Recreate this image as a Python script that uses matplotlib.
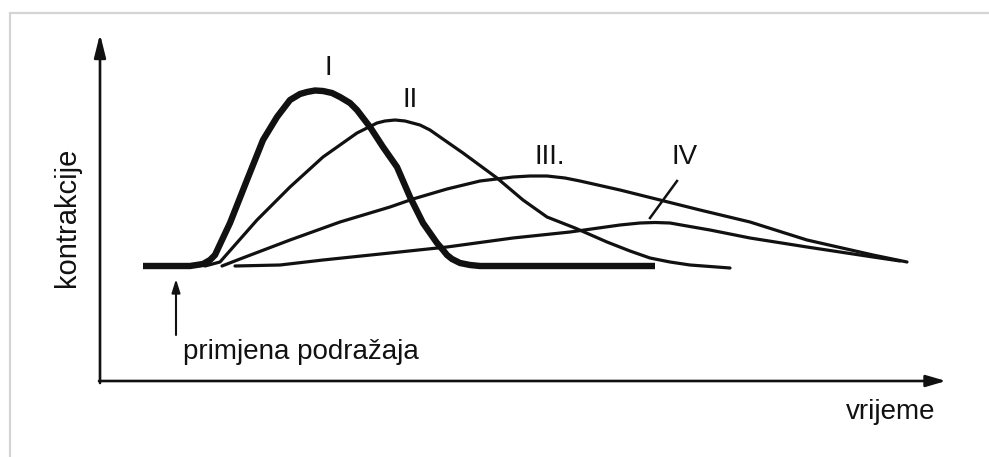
import matplotlib
matplotlib.use('Agg')
import matplotlib.pyplot as plt
from matplotlib.patches import Rectangle

plt.rcParams['font.family'] = ['Liberation Sans', 'DejaVu Sans']

# time (x) and contraction (y), arbitrary units
t_I = [43, 90, 103, 110, 115, 122, 130, 147, 163, 177, 190, 200, 207, 215, 223,
       232, 240, 250, 257, 270, 283, 297, 310, 323, 337, 343, 347, 352, 360, 370,
       380, 555]
c_I = [115, 115, 117, 121, 126, 141, 158, 201, 241, 264, 281, 287, 289, 290.5, 290,
       288, 284, 278, 271, 254, 234, 214, 184, 158, 138, 131, 126, 122, 118, 116,
       115, 115]

t_II = [105, 120, 157, 190, 223, 257, 277, 285, 295, 305, 320, 330, 340, 363, 397,
        423, 447, 475, 507, 530, 550, 570, 590, 630]
c_II = [115, 119, 161, 194, 224, 248, 258, 260, 261, 260, 256, 251, 244, 228, 203,
        181, 164, 153, 139, 130, 123, 119, 116, 113]

t_III = [122, 140, 190, 240, 290, 313, 347, 380, 413, 430, 447, 465, 480, 520, 560,
         600, 650, 707, 773, 807]
c_III = [115, 122, 141, 159, 174, 182, 192, 200, 204, 205, 205, 203, 200, 191, 181,
         171, 159, 141, 126, 119]

t_IV = [135, 180, 223, 290, 347, 413, 470, 520, 540, 555, 570, 587, 610, 650, 707,
        773, 800]
c_IV = [115, 116, 121, 128, 134, 143, 149, 156, 158, 158.5, 158, 155, 151, 143, 134,
        124, 120]

labels = ['I', 'II', 'III.', 'IV']
label_t = [228, 310, 450, 585]
label_c = [313, 281, 224, 224]

fig = plt.figure(figsize=(9.89, 4.57), dpi=100)
fig.patch.set_facecolor('white')
# faint frame of the scanned picture
fig.patches.append(Rectangle((10 / 989, -0.1), 1.2, (457 - 13) / 457 + 0.1,
                             transform=fig.transFigure, fill=False,
                             edgecolor='#d4d4d4', lw=1.6))

ax = fig.add_axes([0, 0, 1, 1])
ax.set_xlim(-100, 889)
ax.set_ylim(-76, 381)
ax.axis('off')

k = '#111111'
ax.plot(t_I, c_I, color=k, lw=4.6, solid_capstyle='butt', solid_joinstyle='round')
for tt, cc in [(t_II, c_II), (t_III, c_III), (t_IV, c_IV)]:
    ax.plot(tt, cc, color=k, lw=2.3, solid_joinstyle='round', solid_capstyle='round')

# pointer to curve IV
ax.plot([550, 577], [163, 200], color=k, lw=1.8)

for s, x, y in zip(labels, label_t, label_c):
    ax.text(x, y, s, fontsize=20, ha='center', va='center', color=k)

# axes with arrows
ax.annotate('', xy=(0, 347), xytext=(0, -2),
            arrowprops=dict(arrowstyle='-|>,head_length=1.4,head_width=0.35',
                            color=k, lw=1.9, shrinkA=0, shrinkB=0))
ax.annotate('', xy=(846, 0), xytext=(-1, 0),
            arrowprops=dict(arrowstyle='-|>,head_length=1.2,head_width=0.35',
                            color=k, lw=1.9, shrinkA=0, shrinkB=0))

# stimulus arrow
ax.annotate('', xy=(76, 102), xytext=(76, 46),
            arrowprops=dict(arrowstyle='-|>,head_length=0.8,head_width=0.25',
                            color=k, lw=1.5, shrinkA=0, shrinkB=0))
ax.text(83, 29, 'primjena podražaja', fontsize=20, ha='left', va='center', color=k)

ax.text(835, -31, 'vrijeme', fontsize=20, ha='right', va='center', color=k)
ax.text(-33, 164, 'kontrakcije', fontsize=21, rotation=90, ha='center',
        va='center', color=k)

fig.savefig('out.png', dpi=100)
